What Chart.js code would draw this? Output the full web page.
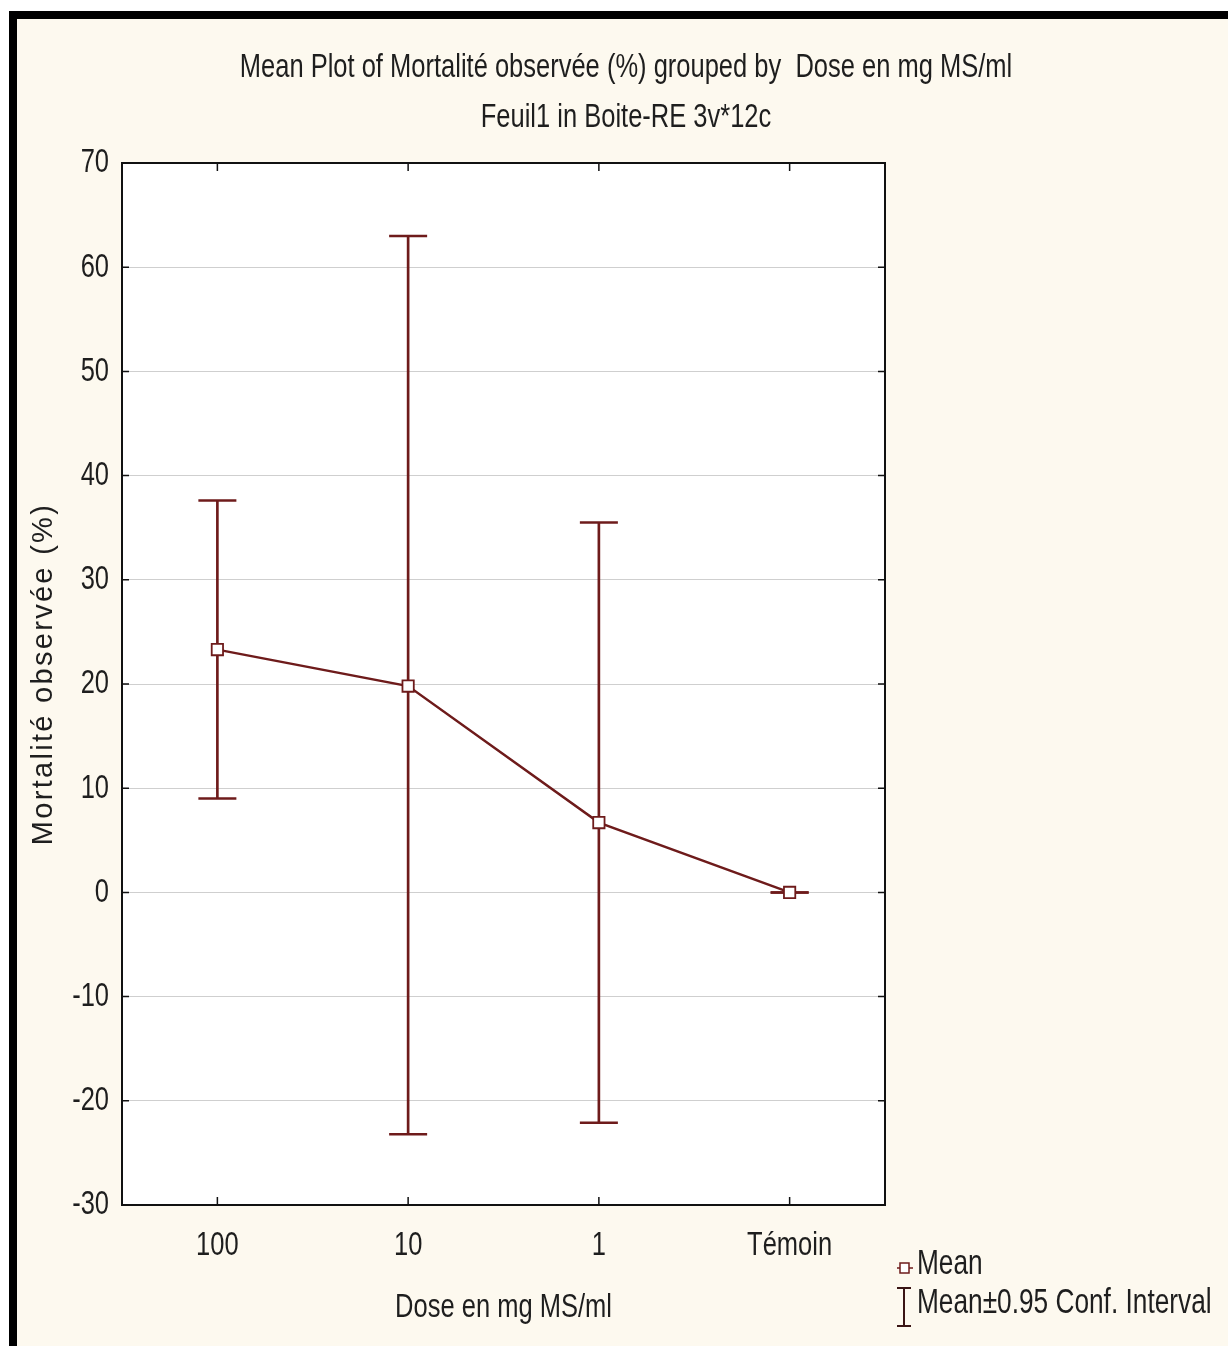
<!DOCTYPE html>
<html>
<head>
<meta charset="utf-8">
<script src="https://cdn.jsdelivr.net/npm/chart.js@4.4.1/dist/chart.umd.min.js"></script>
<style>
  html, body { margin: 0; padding: 0; background: #ffffff; }
  #wrap { width: 1228px; height: 1346px; }
</style>
</head>
<body>
<div id="wrap"><canvas id="chart" width="1228" height="1346"></canvas></div>
<script>
// data
const doses = ["100", "10", "1", "Témoin"];
const means = [23.3, 19.8, 6.7, 0];
const ciLow = [9.0, -23.2, -22.1, 0];
const ciHigh = [37.6, 63.0, 35.5, 0];
const yTicks = [-30, -20, -10, 0, 10, 20, 30, 40, 50, 60, 70];

const MAROON = "#6e1b1b";
const FONT = "'Liberation Sans', Arial, sans-serif";
const TXT = "#1e1e1e";

// the original uses a tall condensed face; no narrow font is installed,
// so squeeze text horizontally on this canvas
const canvas = document.getElementById("chart");
const c2d = canvas.getContext("2d");
const SQUEEZE = 0.75;
let squeeze = true;
const rawFill = c2d.fillText.bind(c2d);
const rawMeasure = c2d.measureText.bind(c2d);
c2d.fillText = function (text, x, y, maxWidth) {
  if (!squeeze) return rawFill(text, x, y);
  this.save();
  this.translate(x, y);
  this.scale(SQUEEZE, 1);
  rawFill(text, 0, 0);
  this.restore();
};
c2d.measureText = function (text) {
  const m = rawMeasure(text);
  if (!squeeze) return m;
  return { width: m.width * SQUEEZE, actualBoundingBoxAscent: m.actualBoundingBoxAscent,
           actualBoundingBoxDescent: m.actualBoundingBoxDescent };
};

const framePlugin = {
  id: "frame",
  beforeDraw(chart) {
    const { ctx, width, height, chartArea: a } = chart;
    ctx.save();
    ctx.fillStyle = "#ffffff";
    ctx.fillRect(0, 0, width, height);
    ctx.fillStyle = "#000000";
    ctx.fillRect(9, 11, width - 9, height - 11);
    ctx.fillStyle = "#fdf9ef";
    ctx.fillRect(17, 19, width - 17, height - 19);
    ctx.fillStyle = "#ffffff";
    ctx.fillRect(a.left, a.top, a.right - a.left, a.bottom - a.top);
    ctx.restore();
  },
  afterDraw(chart) {
    const { ctx, chartArea: a, scales } = chart;
    ctx.save();
    // box round the plot and inward ticks
    ctx.strokeStyle = "#111";
    ctx.lineWidth = 2;
    ctx.strokeRect(a.left, a.top, a.right - a.left, a.bottom - a.top);
    ctx.lineWidth = 1.5;
    ctx.beginPath();
    scales.y.ticks.forEach((t, i) => {
      const y = scales.y.getPixelForTick(i);
      ctx.moveTo(a.left, y); ctx.lineTo(a.left + 7, y);
      ctx.moveTo(a.right, y); ctx.lineTo(a.right - 7, y);
    });
    scales.x.ticks.forEach((t, i) => {
      const x = scales.x.getPixelForTick(i);
      ctx.moveTo(x, a.top); ctx.lineTo(x, a.top + 8);
      ctx.moveTo(x, a.bottom); ctx.lineTo(x, a.bottom - 8);
    });
    ctx.stroke();

    // y axis title, regular width and spaced out like the original
    squeeze = false;
    ctx.translate(44, 674);
    ctx.rotate(-Math.PI / 2);
    ctx.fillStyle = TXT;
    ctx.font = "29px " + FONT;
    ctx.letterSpacing = "2.3px";
    ctx.textAlign = "center";
    ctx.textBaseline = "middle";
    ctx.fillText("Mortalité observée (%)", 0, 0);
    squeeze = true;
    ctx.restore();

    // legend
    ctx.save();
    ctx.fillStyle = TXT;
    ctx.font = "35px " + FONT;
    ctx.textAlign = "left";
    ctx.textBaseline = "middle";
    ctx.fillText("Mean", 917, 1264);
    ctx.fillText("Mean±0.95 Conf. Interval", 917, 1303);
    ctx.strokeStyle = MAROON;
    ctx.lineWidth = 1.5;
    ctx.beginPath();
    ctx.moveTo(897, 1268); ctx.lineTo(913, 1268);
    ctx.stroke();
    ctx.fillStyle = "#fff";
    ctx.fillRect(900, 1263, 9, 10);
    ctx.strokeRect(900, 1263, 9, 10);
    ctx.strokeStyle = "#3a1515";
    ctx.lineWidth = 2;
    ctx.beginPath();
    ctx.moveTo(897, 1288); ctx.lineTo(911, 1288);
    ctx.moveTo(904, 1288); ctx.lineTo(904, 1326);
    ctx.moveTo(897, 1326); ctx.lineTo(911, 1326);
    ctx.stroke();
    ctx.restore();
  }
};

new Chart(canvas, {
  data: {
    labels: doses,
    datasets: [
      {
        type: "line",
        label: "Mean",
        data: means,
        borderColor: MAROON,
        borderWidth: 2.5,
        pointStyle: "rect",
        pointRadius: 8,
        pointBorderWidth: 1.8,
        pointBorderColor: MAROON,
        pointBackgroundColor: "#ffffff",
        order: 0
      },
      {
        type: "line",
        label: "CI high",
        data: ciHigh,
        showLine: false,
        pointStyle: "line",
        pointRadius: 19,
        pointBorderWidth: 2.5,
        pointBorderColor: MAROON,
        order: 1
      },
      {
        type: "line",
        label: "CI low",
        data: ciLow,
        showLine: false,
        pointStyle: "line",
        pointRadius: 19,
        pointBorderWidth: 2.5,
        pointBorderColor: MAROON,
        order: 1
      },
      {
        type: "bar",
        label: "CI",
        data: ciLow.map((lo, i) => [lo, ciHigh[i]]),
        backgroundColor: MAROON,
        barThickness: 2,
        order: 2
      }
    ]
  },
  options: {
    responsive: false,
    animation: false,
    layout: { padding: { left: 24, right: 0, top: 0, bottom: 0 } },
    plugins: {
      legend: { display: false },
      tooltip: { enabled: false },
      title: {
        display: true,
        text: ["Mean Plot of Mortalité observée (%) grouped by  Dose en mg MS/ml", "Feuil1 in Boite-RE 3v*12c"],
        color: TXT,
        font: { family: FONT, size: 34, weight: "normal", lineHeight: 50 / 34 },
        padding: { top: 43, bottom: 20 }
      }
    },
    scales: {
      x: {
        type: "category",
        offset: true,
        grid: { display: false, drawTicks: false },
        border: { display: true, color: "#111", width: 2 },
        ticks: { color: TXT, padding: 20, font: { family: FONT, size: 34 } },
        title: {
          display: true,
          text: "Dose en mg MS/ml",
          color: TXT,
          font: { family: FONT, size: 34 },
          padding: { top: 0, bottom: 18 }
        },
        afterFit: (s) => { s.height = 141; }
      },
      y: {
        min: -30,
        max: 70,
        afterBuildTicks: (s) => { s.ticks = yTicks.map(v => ({ value: v })); },
        grid: { color: "#cfcfcf", lineWidth: 1, drawTicks: false },
        border: { display: true, color: "#111", width: 2 },
        ticks: { color: TXT, padding: 13, font: { family: FONT, size: 34 } },
        afterFit: (s) => { s.width = 98; }
      },
      yr: {
        position: "right",
        display: true,
        grid: { display: false, drawTicks: false },
        border: { display: false },
        ticks: { display: false },
        afterFit: (s) => { s.width = 343; }
      }
    }
  },
  plugins: [framePlugin]
});
</script>
</body>
</html>
